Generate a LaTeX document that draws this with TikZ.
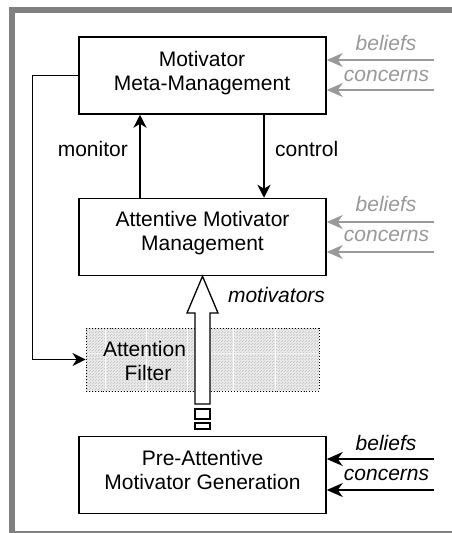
\documentclass[tikz,border=0pt]{standalone}
\usepackage{fontspec}
\setmainfont{Liberation Sans}
\usetikzlibrary{arrows.meta,patterns}
\definecolor{framegray}{HTML}{808080}
\definecolor{inputgray}{HTML}{999999}

\begin{document}
\begin{tikzpicture}[x=1pt,y=-1pt,
  txt/.style={font=\fontsize{21}{24}\selectfont},
  itxt/.style={font=\fontsize{21}{24}\selectfont\itshape},
  box/.style={draw,line width=1.5pt,minimum width=247pt,minimum height=77pt,
              inner sep=0pt},
  arr/.style={line width=1.5pt,-{Stealth[length=13pt,width=13pt,inset=4pt]}},
  inarr/.style={line width=1.5pt,-{Stealth[length=16pt,width=14pt,inset=5pt]}},
  ingray/.style={inarr,draw=inputgray},
  lab/.style={txt,anchor=base,inner sep=0pt,align=center},
  hollow/.style={draw,fill=white,line width=1.3pt}]

\useasboundingbox (0,0) rectangle (452,533);

% frame
\fill[framegray] (9,7) rectangle (452,13);
\fill[framegray] (9,7) rectangle (15,533);
\fill[framegray] (9,531) rectangle (452,533);

% attention filter (hatched, dotted outline, light grid)
\node[draw,dotted,line width=0.9pt,minimum width=233pt,minimum height=63pt,
      inner sep=0pt,preaction={fill=gray!18},pattern=north east lines,
      pattern color=gray!50] (filt) at (202.5,359.5) {};
\foreach \gx in {105,146,187,233,275}
  \draw[white,line width=0.8pt] (\gx,329) -- (\gx,390);
\draw[gray!12,line width=0.8pt] (87,353) -- (318,353);
\node[lab] (ftop) at (144.5,356.7) {Attention};
\node[lab] (fbot) at (148,380.7) {Filter};

% process boxes
\node[box] (meta)   at (202.5,75.5) {};
\node[box] (mgmt)   at (202.5,237)  {};
\node[box] (pregen) at (202.5,475)  {};
\node[lab] (metatext)   at (202,90)    {Motivator\\Meta-Management};
\node[lab] (mgmttext)   at (202.5,250.7) {Attentive Motivator\\Management};
\node[lab] (pregentext) at (202.5,489.3) {Pre-Attentive\\Motivator Generation};

% monitor / control loop
\draw[arr] ([xshift=-62.5pt]mgmt.north) -- ([xshift=-62.5pt]meta.south);
\draw[arr] ([xshift=61.5pt]meta.south) -- ([xshift=61.5pt]mgmt.north);
\node[lab,anchor=base east] (monlab) at (128,156.7) {monitor};
\node[lab,anchor=base west] (conlab) at (275,156.7) {control};

% attention feedback into the filter
\draw[arr] (meta.west) -- ++(-46,0) |- (filt.west);

% motivators passing through the filter (hollow arrow)
\draw[hollow] (mgmt.south) -- (218,313) -- (210,313) -- (210,404)
  -- (195,404) -- (195,313) -- (187,313) -- cycle;
\draw[hollow] (195,409) rectangle (210,419);
\draw[hollow] (195,423) rectangle (210,429);
\node[lab,itxt] (motlab) at (276.5,302.7) {motivators};

% inputs: beliefs and concerns
\coordinate (b1) at (434,60);  \coordinate (c1) at (434,90);
\coordinate (b2) at (434,222); \coordinate (c2) at (434,252);
\coordinate (b3) at (434,459); \coordinate (c3) at (434,490);
\draw[ingray] (b1) -- (b1 -| meta.east);
\draw[ingray] (c1) -- (c1 -| meta.east);
\draw[ingray] (b2) -- (b2 -| mgmt.east);
\draw[ingray] (c2) -- (c2 -| mgmt.east);
\draw[inarr] (b3) -- (b3 -| pregen.east);
\draw[inarr] (c3) -- (c3 -| pregen.east);
\begin{scope}[every node/.style={lab,itxt}]
  \node[text=inputgray] (bl1) at (386,50.7)  {beliefs};
  \node[text=inputgray] (cn1) at (386.5,81)  {concerns};
  \node[text=inputgray] (bl2) at (386,211.7) {beliefs};
  \node[text=inputgray] (cn2) at (386.5,241.7) {concerns};
  \node (bl3) at (386,450) {beliefs};
  \node (cn3) at (386.5,480) {concerns};
\end{scope}
\end{tikzpicture}
\end{document}
